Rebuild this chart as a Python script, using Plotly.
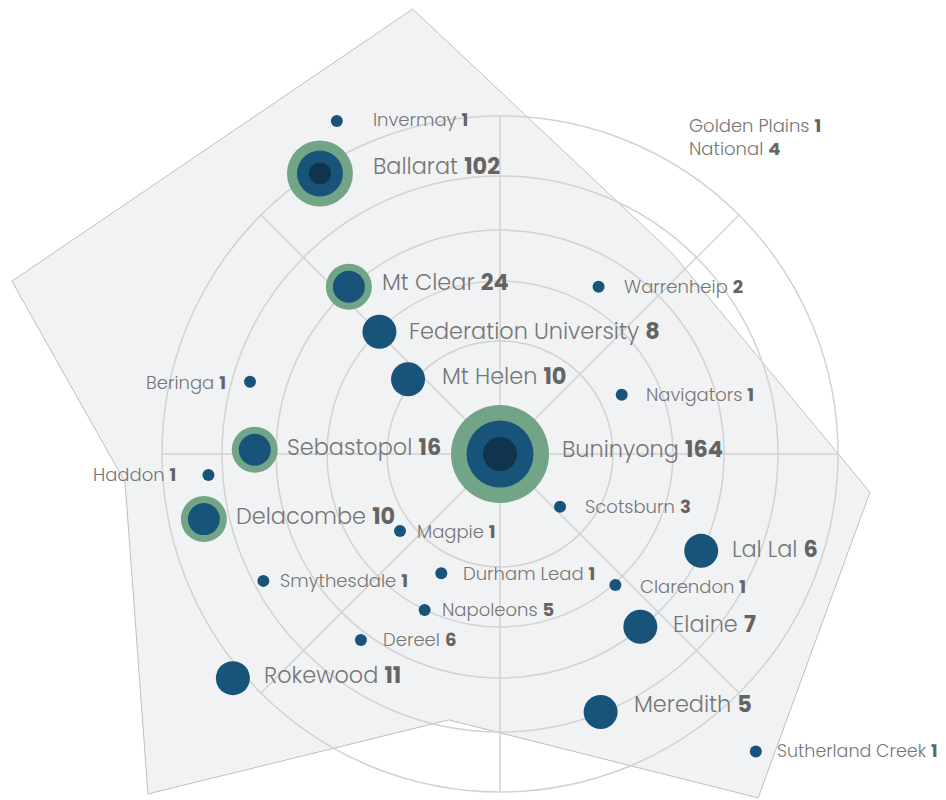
import numpy as np
import plotly.graph_objects as go

# ---------------- data ----------------
places = ["Buninyong", "Ballarat", "Mt Clear", "Sebastopol", "Delacombe",
          "Federation University", "Mt Helen", "Rokewood", "Lal Lal", "Elaine", "Meredith",
          "Invermay", "Warrenheip", "Navigators", "Beringa", "Haddon", "Scotsburn",
          "Magpie", "Durham Lead", "Clarendon", "Smythesdale", "Napoleons", "Dereel",
          "Sutherland Creek"]
counts = [164, 102, 24, 16, 10,
          8, 10, 11, 6, 7, 5,
          1, 2, 1, 1, 1, 3,
          1, 1, 1, 1, 5, 6,
          1]
# distance from the Buninyong centre (chart radial units) and bearing (deg clockwise from north)
distance = [0, 333.3, 225.4, 245.3, 303.2,
            171.7, 118.5, 348.7, 223.3, 222.5, 277.0,
            370.9, 194.2, 135.4, 260.2, 292.3, 79.9,
            126.2, 133.0, 174.5, 268.5, 173.2, 232.2,
            392.3]
bearing = [0, 327.3, 317.9, 271.0, 257.6,
           315.4, 309.1, 230.0, 115.7, 140.9, 158.7,
           333.9, 30.5, 64.0, 286.1, 265.9, 131.3,
           232.4, 206.2, 138.6, 241.8, 205.8, 216.8,
           139.3]
tier = ["hub", "city", "ring", "ring", "ring",
        "town", "town", "town", "town", "town", "town",
        "small", "small", "small", "small", "small", "small",
        "small", "small", "small", "small", "small", "small",
        "small"]

other_labels = ["Golden Plains", "National"]
other_counts = [1, 4]
other_dist = 367.9
other_bearing = 30.5

ring_radii = [113, 173, 224, 278, 338]
spoke_angles = [0, 45, 90, 135, 180, 225, 270, 315]

region_dist = [453.4, 264.5, 371.9, 430.0, 270.8, 489.4, 376.0, 517.8]
region_bearing = [348.9, 40.6, 95.9, 143.1, 190.9, 226.0, 265.7, 289.5]

# ---------------- styles ----------------
GREEN = "#72a587"
BLUE = "#185479"
DARK = "#10344c"
NAME_COL = "#767676"
NUM_COL = "#646464"
GRID = "#d2d2d2"
FONT = "Poppins, Open Sans, sans-serif"

size_green = {"hub": 98, "city": 66, "ring": 46}
size_blue = {"hub": 67, "city": 46, "ring": 32, "town": 34, "small": 12}
size_dark = {"hub": 34, "city": 22}
label_size = {"hub": 22.4, "city": 22.4, "ring": 22.4, "town": 22.4, "small": 18}
size_override = {"Sutherland Creek": 17.5}
label_gap = {"Buninyong": 60, "Ballarat": 51, "Mt Clear": 31, "Sebastopol": 30,
             "Delacombe": 30, "Federation University": 28, "Mt Helen": 32,
             "Rokewood": 29, "Lal Lal": 29, "Elaine": 31, "Meredith": 31,
             "Invermay": 34, "Warrenheip": 23, "Navigators": 22, "Beringa": -22,
             "Haddon": -30, "Scotsburn": 23, "Magpie": 15, "Durham Lead": 20,
             "Clarendon": 23, "Smythesdale": 15, "Napoleons": 15, "Dereel": 20,
             "Sutherland Creek": 19}
label_lift = {"hub": 3, "city": 3, "ring": 3, "town": 3, "small": 0}
lift_override = {"Ballarat": 8, "Meredith": 8, "Mt Clear": 5, "Federation University": 1,
                 "Buninyong": 5, "Lal Lal": 2, "Beringa": -1, "Clarendon": -2,
                 "Invermay": 1}


def to_xy(d, b):
    d = np.asarray(d, float)
    b = np.radians(np.asarray(b, float))
    return d * np.sin(b), d * np.cos(b)


px_, py_ = to_xy(distance, bearing)
rx, ry = to_xy(region_dist, region_bearing)

fig = go.Figure()

shapes = []
path = "M " + " L ".join(f"{x:.2f},{y:.2f}" for x, y in zip(rx, ry)) + " Z"
shapes.append(dict(type="path", path=path, fillcolor="#f1f2f4",
                   line=dict(color="#bfbfbf", width=1), layer="below"))
for r in ring_radii:
    shapes.append(dict(type="circle", x0=-r, y0=-r, x1=r, y1=r,
                       line=dict(color=GRID, width=1.5), layer="below"))
R = ring_radii[-1]
for a in spoke_angles:
    ex, ey = to_xy([R], [a])
    shapes.append(dict(type="line", x0=0, y0=0, x1=float(ex[0]), y1=float(ey[0]),
                       line=dict(color=GRID, width=1.5), layer="below"))

# marker layers
for layer, sizes, col in [("green", size_green, GREEN), ("blue", size_blue, BLUE),
                          ("dark", size_dark, DARK)]:
    idx = [i for i, t in enumerate(tier) if t in sizes]
    fig.add_trace(go.Scatter(
        x=px_[idx], y=py_[idx], mode="markers",
        marker=dict(size=[sizes[tier[i]] for i in idx], color=col, opacity=1,
                    line=dict(width=0)),
        hoverinfo="skip", showlegend=False))

annotations = []
for i, name in enumerate(places):
    gap = label_gap[name]
    annotations.append(dict(
        x=px_[i], y=py_[i], xref="x", yref="y", showarrow=False,
        text=f"{name} <b><span style='color:{NUM_COL}'>{counts[i]}</span></b>",
        xanchor="left" if gap > 0 else "right", yanchor="middle",
        xshift=gap, yshift=lift_override.get(name, label_lift[tier[i]]),
        font=dict(family=FONT, size=size_override.get(name, label_size[tier[i]]),
                  color=NAME_COL, weight=300)))

# top-right note (no marker)
nx, ny = to_xy([other_dist], [other_bearing])
note_text = "<br>".join(f"{n} <b><span style='color:{NUM_COL}'>{c}</span></b>"
                        for n, c in zip(other_labels, other_counts))
annotations.append(dict(
    x=float(nx[0]), y=float(ny[0]), xref="x", yref="y", showarrow=False,
    text=note_text, xanchor="left", yanchor="middle", align="left",
    font=dict(family=FONT, size=18, color=NAME_COL, weight=300)))

# page body has an 8px margin: the centre sits at (492, 446) inside the figure
fig.update_layout(
    width=938, height=792, autosize=False,
    margin=dict(l=0, r=0, t=0, b=0),
    paper_bgcolor="white", plot_bgcolor="white",
    xaxis=dict(range=[-492, 446], visible=False, fixedrange=True),
    yaxis=dict(range=[-346, 446], visible=False, fixedrange=True),
    shapes=shapes, annotations=annotations, showlegend=False,
)

fig.write_html("out.html")
